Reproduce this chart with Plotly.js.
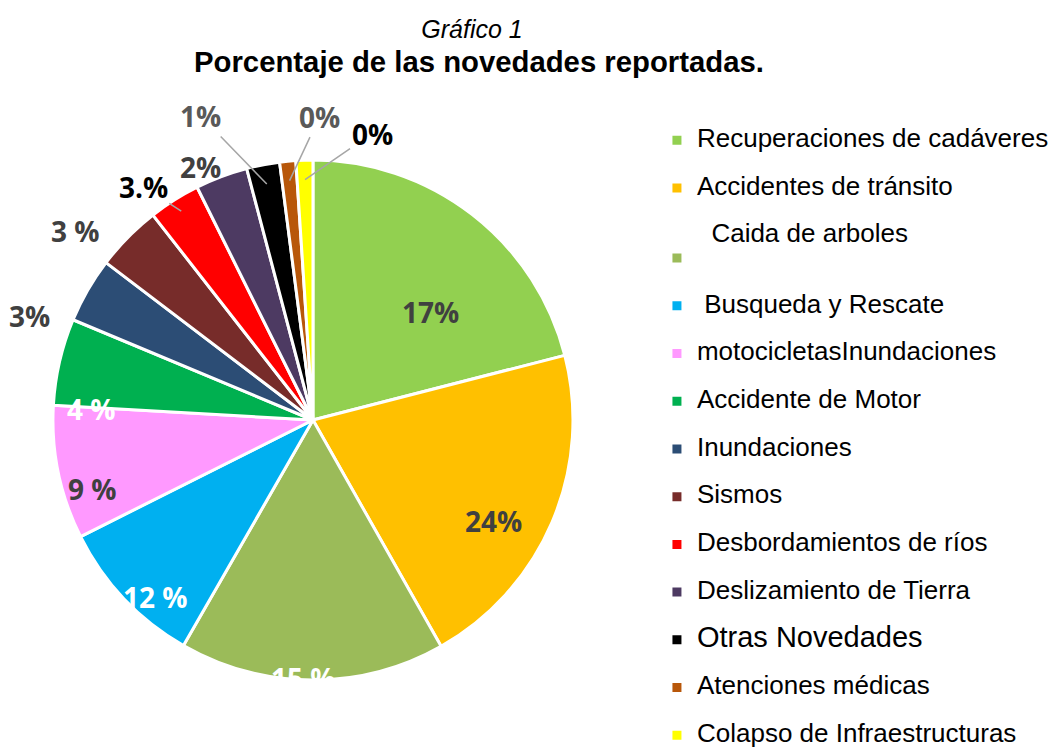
<!DOCTYPE html>
<html>
<head>
<meta charset="utf-8">
<script src="https://cdn.plot.ly/plotly-3.0.1.min.js"></script>
<style>html,body{margin:0;padding:0;background:#fff;}#chart{width:1055px;height:748px;}</style>
</head>
<body>
<div id="chart"></div>
<script>
// Data
var categories = ["Recuperaciones de cadáveres", "Accidentes de tránsito", "Caida de arboles", "Busqueda y Rescate", "motocicletasInundaciones", "Accidente de Motor", "Inundaciones", "Sismos", "Desbordamientos de ríos", "Deslizamiento de Tierra", "Otras Novedades", "Atenciones médicas", "Colapso de Infraestructuras"];
var values = [21.0, 20.8, 16.5, 9.3, 8.3, 5.4, 4.05, 4.1, 3.2, 3.25, 2.05, 1.0, 1.05];
var sliceLabels = ["17%", "24%", "15 %", "12 %", "9 %", "4 %", "3%", "3 %", "3.%", "2%", "1%", "0%", "0%"];
var colors = ["#92D050", "#FFC000", "#9BBB59", "#00B0F0", "#FF99FF", "#00B050", "#2C4D75", "#772C2A", "#FF0000", "#4D3A62", "#000000", "#B8570A", "#FFFF00"];
var labelColors = ["#404040", "#404040", "#FFFFFF", "#FFFFFF", "#404040", "#FFFFFF", "#404040", "#404040", "#000000", "#404040", "#595959", "#595959", "#000000"];

// Label placement (style): pixel offset of each label from its slice's mid-edge point,
// and whether a grey leader line is drawn.
var labelOffsets = [[-42, 97], [-59, -1], [-9, -2], [32, -2], [34, 16], [32, 47], [-58, 26], [-52, -6], [-38, -24], [-21, -10], [-66, -68], [30, -64], [67, -46]];
var labelLeader = [false, false, false, false, false, false, false, false, true, false, true, true, true];

// Pie geometry (matches the trace domain below)
var W = 1055, H = 748;
var dom = { x: [0.0502, 0.5431], y: [0.0909, 0.7861] };
var cxP = (dom.x[0] + dom.x[1]) / 2, cyP = (dom.y[0] + dom.y[1]) / 2;
var rPx = Math.min((dom.x[1] - dom.x[0]) * W, (dom.y[1] - dom.y[0]) * H) / 2;

var legendNames = categories.map(function (c) {
  var size = (c === "Otras Novedades") ? 29 : 26;
  var prefix = (c === "Busqueda y Rescate") ? "&nbsp;" : "";
  if (c === "Caida de arboles") {
    return '&nbsp;<br><span style="font-size:26px">&nbsp;&nbsp;' + c + '</span><br>&nbsp;';
  }
  return '&nbsp;<br><span style="font-size:' + size + 'px">' + prefix + c + '</span>';
});

var trace = {
  type: "pie",
  labels: legendNames,
  values: values,
  textinfo: "none",
  sort: false,
  direction: "clockwise",
  rotation: 0,
  marker: { colors: colors, line: { color: "#FFFFFF", width: 3 } },
  domain: dom,
  hoverinfo: "percent"
};

// Label annotations, anchored at each slice's mid angle computed from the values
var total = values.reduce(function (a, b) { return a + b; }, 0);
var cum = 0;
var annotations = values.map(function (v, i) {
  var mid = (cum + v / 2) / total * 2 * Math.PI;
  cum += v;
  var rr = labelLeader[i] ? rPx * (i === 8 ? 0.95 : 0.925) : rPx;
  var px = cxP + rr * Math.sin(mid) / W;
  var py = cyP + rr * Math.cos(mid) / H;
  return {
    xref: "paper", yref: "paper",
    x: px, y: py,
    ax: labelOffsets[i][0], ay: labelOffsets[i][1],
    text: sliceLabels[i],
    showarrow: true,
    arrowhead: 0,
    arrowwidth: 1.5,
    arrowcolor: labelLeader[i] ? "#A6A6A6" : "rgba(0,0,0,0)",
    standoff: 0,
    font: { family: "Open Sans", size: 28, color: labelColors[i], weight: "bold" }
  };
});

var layout = {
  width: W,
  height: H,
  margin: { l: 0, r: 0, t: 0, b: 0, autoexpand: false },
  paper_bgcolor: "#FFFFFF",
  showlegend: true,
  title: {
    text: '<span style="font-size:25px"><i>Gráfico 1</i>&nbsp;&nbsp;</span><br><span style="font-size:29.3px"><b>Porcentaje de las novedades reportadas.</b></span>',
    x: 0.454, xanchor: "center",
    y: 0.949, yanchor: "top",
    font: { family: "Liberation Sans, Arial", size: 26, color: "#000000" }
  },
  legend: {
    x: 0.6227, xanchor: "left",
    y: 0.866, yanchor: "top",
    valign: "bottom",
    bgcolor: "rgba(0,0,0,0)",
    font: { family: "Liberation Sans, Arial", size: 17.2, color: "#000000" },
    itemwidth: 30
  },
  annotations: annotations
};

Plotly.newPlot("chart", [trace], layout, { displayModeBar: false, staticPlot: true });
</script>
</body>
</html>
